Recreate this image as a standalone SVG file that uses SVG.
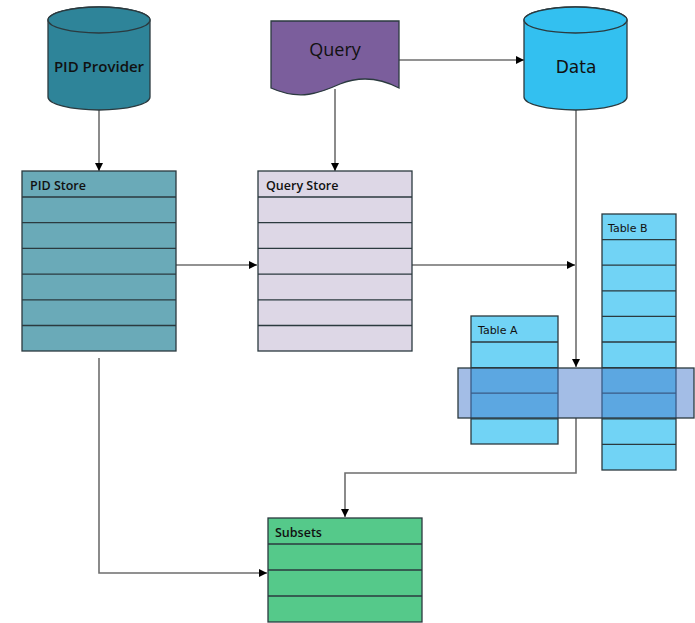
<svg xmlns="http://www.w3.org/2000/svg" width="695" height="623" viewBox="0 0 695 623">
<defs>
<marker id="ah" viewBox="0 0 10 10" refX="10" refY="5" markerWidth="8" markerHeight="8" markerUnits="userSpaceOnUse" orient="auto"><path d="M0,0 L10,5 L0,10 z" fill="#000"/></marker>
<style>
.sh{stroke:#2b3a3f;stroke-width:1.3}
.rl{stroke:#2b3a3f;stroke-width:1.3;fill:none}
.cn{stroke:#6e6e6e;stroke-width:1.6;fill:none}
.hd{font-family:"Open Sans","Liberation Sans",sans-serif;font-size:12.5px;fill:#111;font-weight:600}
.tb{font-family:"DejaVu Sans","Noto Sans",sans-serif;font-size:11px;fill:#111}
</style>
</defs>
<rect width="695" height="623" fill="#fff"/>
<g id="connectors">
<path class="cn" d="M99,110 V171" marker-end="url(#ah)"/>
<path class="cn" d="M335,89 V171" marker-end="url(#ah)"/>
<path class="cn" d="M399,60 H524" marker-end="url(#ah)"/>
<path class="cn" d="M176,265 H257" marker-end="url(#ah)"/>
<path class="cn" d="M412,265 H575" marker-end="url(#ah)"/>
<path class="cn" d="M576,110 V367" marker-end="url(#ah)"/>
<path class="cn" d="M576,418 V473 H345 V517" marker-end="url(#ah)"/>
<path class="cn" d="M99,358 V573 H267" marker-end="url(#ah)"/>
</g>
<g id="pid-provider">
<path class="sh" fill="#2e8499" d="M48,20 V97 A51,13 0 0 0 150,97 V20 A51,13 0 0 0 48,20 Z"/>
<ellipse class="sh" fill="#2e8499" cx="99" cy="20" rx="51" ry="13"/>
<text x="99" y="72" text-anchor="middle" font-family="Open Sans, Liberation Sans, sans-serif" font-size="15" font-weight="600" fill="#111">PID Provider</text>
</g>
<g id="query">
<path class="sh" fill="#7b5e9c" d="M271,21 H399 V88 C380,78 360,76 340,84 C320,93 300,101 271,88 Z"/>
<text x="335" y="56" text-anchor="middle" font-family="Open Sans, Liberation Sans, sans-serif" font-size="18" fill="#111">Query</text>
</g>
<g id="data">
<path class="sh" fill="#33c0f0" d="M524,20 V97 A51.5,13 0 0 0 627,97 V20 A51.5,13 0 0 0 524,20 Z"/>
<ellipse class="sh" fill="#33c0f0" cx="575.5" cy="20" rx="51.5" ry="13"/>
<text x="576" y="73" text-anchor="middle" font-family="DejaVu Sans, Noto Sans, sans-serif" font-size="17" fill="#111">Data</text>
</g>
<g id="pid-store">
<rect class="sh" fill="#6aaab8" x="22" y="171" width="154" height="180"/>
<path class="rl" d="M22,197H176M22,222.7H176M22,248.4H176M22,274.1H176M22,299.8H176M22,325.5H176"/>
<text class="hd" x="30" y="190">PID Store</text>
</g>
<g id="query-store">
<rect class="sh" fill="#ddd7e6" x="258" y="171" width="154" height="180"/>
<path class="rl" d="M258,197H412M258,222.7H412M258,248.4H412M258,274.1H412M258,299.8H412M258,325.5H412"/>
<text class="hd" x="266" y="190">Query Store</text>
</g>
<g id="table-b">
<rect class="sh" fill="#71d3f5" x="602" y="214" width="74" height="256"/>
<path class="rl" d="M602,239.6H676M602,265.2H676M602,290.8H676M602,316.4H676M602,342H676M602,367.6H676M602,393.2H676M602,418.8H676M602,444.4H676"/>
<text class="tb" x="608" y="232">Table B</text>
</g>
<g id="table-a">
<rect class="sh" fill="#71d3f5" x="471" y="316" width="87" height="128"/>
<path class="rl" d="M471,342H558M471,367.6H558M471,393.2H558M471,418.8H558"/>
<text class="tb" x="478" y="334">Table A</text>
</g>
<g id="selection">
<rect x="458" y="368" width="236" height="50" fill="rgb(71,123,205)" fill-opacity="0.5" stroke="#2b3a3f" stroke-width="1.3"/>
</g>
<g id="subsets">
<rect class="sh" fill="#55c98a" x="268" y="518" width="154" height="104"/>
<path class="rl" d="M268,544H422M268,570H422M268,596H422"/>
<text class="hd" x="275" y="537">Subsets</text>
</g>
</svg>
